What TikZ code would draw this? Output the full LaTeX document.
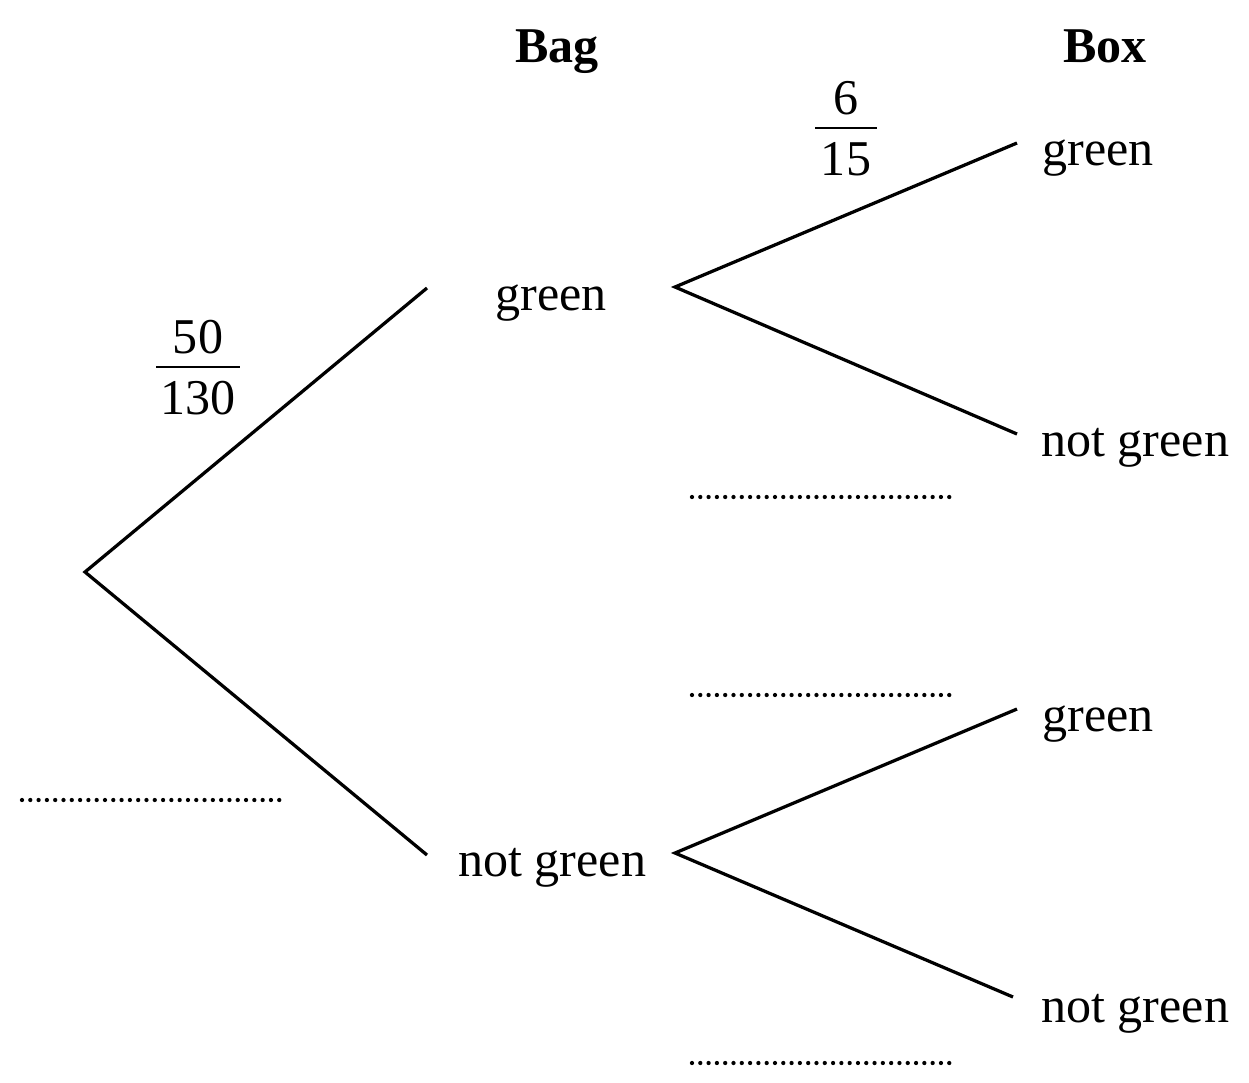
\documentclass[tikz,border=0pt]{standalone}
\usepackage{fontspec}
\setmainfont{Liberation Serif}
\usetikzlibrary{positioning}
\tikzset{
  lbl/.style={inner sep=0pt,anchor=base west,font=\fontsize{28.5}{34}\selectfont},
  head/.style={inner sep=0pt,anchor=base,font=\fontsize{28.5}{34}\selectfont\bfseries},
  branch/.style={line width=0.065cm,line join=miter,line cap=butt},
  answer/.style={line width=0.085cm,line cap=round,dash pattern=on 0pt off 0.166cm},
  fracpart/.style={inner sep=0pt,anchor=base,font=\fontsize{28.5}{34}\selectfont}
}
% fraction on a branch: name, centre x, bar y, numerator, denominator, half bar
\newcommand{\branchfrac}[6]{%
  \node[fracpart] (#1num) at (#2,#3-14) {#4};
  \node[fracpart] (#1den) at (#2,#3+47) {#5};
  \draw[line width=0.045cm] (#2-#6,#3) -- (#2+#6,#3);
}
\begin{document}
\begin{tikzpicture}[x=0.02cm,y=-0.02cm]
  \useasboundingbox (0,0) rectangle (1249,1083);
  % headings
  \node[head] (bag) at (557,62) {Bag};
  \node[head] (box) at (1105,62) {Box};
  % tree points
  \coordinate (root) at (85,572);
  \coordinate (up) at (427,288);
  \coordinate (down) at (427,855);
  \coordinate (upfork) at (675,287);
  \coordinate (downfork) at (675,853);
  \coordinate (uu) at (1017,143);
  \coordinate (ud) at (1017,434);
  \coordinate (du) at (1017,709);
  \coordinate (dd) at (1013,997);
  % first stage
  \draw[branch] (up) -- (root) -- (down);
  \node[lbl] (bggreen) at (495,310) {green};
  \node[lbl] (bgnot) at (458,876) {not green};
  % second stage
  \draw[branch] (uu) -- (upfork) -- (ud);
  \draw[branch] (du) -- (downfork) -- (dd);
  \node[lbl] (bxgreen1) at (1042,165) {green};
  \node[lbl] (bxnot1) at (1041,456) {not green};
  \node[lbl] (bxgreen2) at (1042,731) {green};
  \node[lbl] (bxnot2) at (1041,1022) {not green};
  % probabilities
  \branchfrac{pa}{198}{367}{50}{130}{42}
  \branchfrac{pb}{846}{128}{6}{15}{31}
  % answer lines
  \foreach \y/\xs in {800/22, 497/692, 695/692, 1063/692}
    \draw[answer] (\xs,\y) -- (\xs+258,\y);
\end{tikzpicture}
\end{document}
